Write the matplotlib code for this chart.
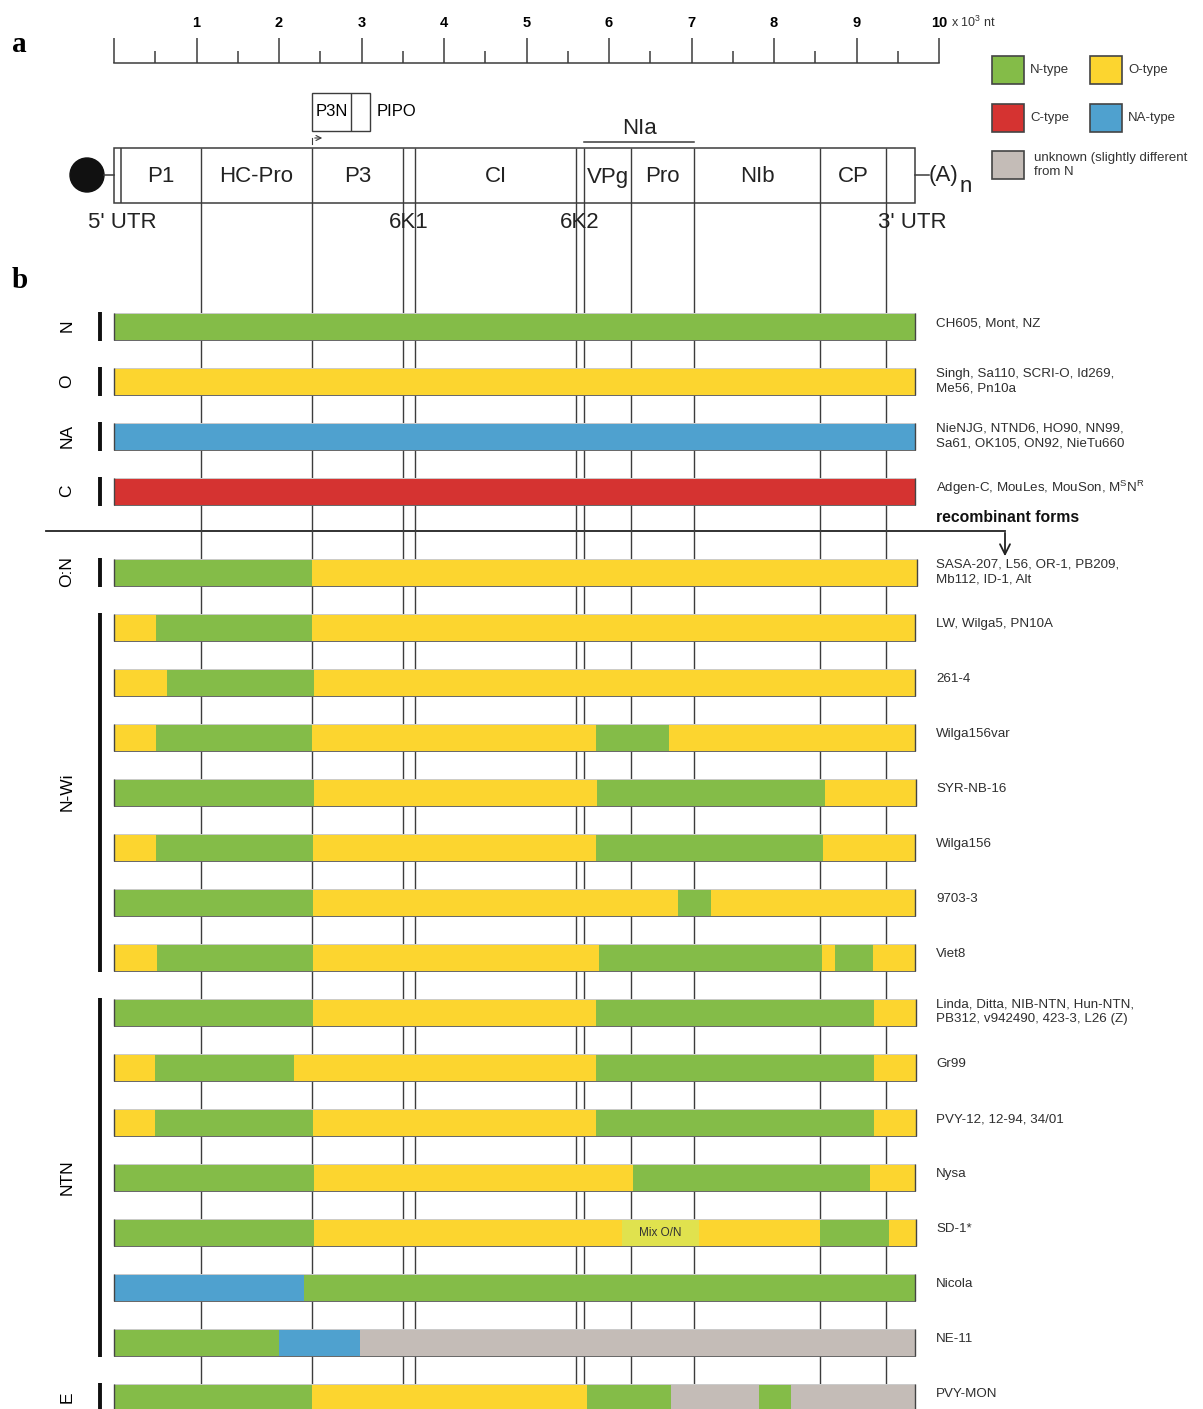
import numpy as np
import matplotlib.pyplot as plt
from matplotlib.patches import Rectangle, Circle

plt.rcParams['font.family'] = ['Liberation Sans', 'DejaVu Sans']
plt.rcParams['mathtext.fontset'] = 'custom'
plt.rcParams['mathtext.rm'] = 'Liberation Sans'

# genome map, positions in kb
genome_len = 9.71
utr5_end = 0.085
protein_names = ['P1', 'HC-Pro', 'P3', 'CI', 'VPg', 'Pro', 'NIb', 'CP']
protein_starts = [0.085, 1.055, 2.40, 3.65, 5.70, 6.27, 7.03, 8.56]
protein_ends = [1.055, 2.40, 3.50, 5.60, 6.27, 7.03, 8.56, 9.36]
boundaries = [1.055, 2.40, 3.50, 3.65, 5.60, 5.70, 6.27, 7.03, 8.56, 9.36]
small_names = ['6K1', '6K2']
small_pos = [3.575, 5.65]
nia_span = [5.70, 7.03]
p3n_span = [2.40, 2.87, 3.10]

# colours per type
type_colors = {'N': '#84bc48', 'O': '#fcd52f', 'NA': '#4fa1cf', 'C': '#d53331',
               'U': '#c4bcb7', 'M': '#e0e24e'}
legend_types = ['N', 'O', 'C', 'NA', 'U']
legend_labels = ['N-type', 'O-type', 'C-type', 'NA-type', 'unknown (slightly different\nfrom N']

# reference strains
ref_groups = ['N', 'O', 'NA', 'C']
ref_strains = ['CH605, Mont, NZ',
               'Singh, Sa110, SCRI-O, Id269,\nMe56, Pn10a',
               'NieNJG, NTND6, HO90, NN99,\nSa61, OK105, ON92, NieTu660',
               r'Adgen-C, MouLes, MouSon, M$^{\mathrm{S}}$N$^{\mathrm{R}}$']

# recombinant strains: segment types and breakpoints (kb)
rec_strains = ['SASA-207, L56, OR-1, PB209,\nMb112, ID-1, Alt',
               'LW, Wilga5, PN10A', '261-4', 'Wilga156var', 'SYR-NB-16', 'Wilga156',
               '9703-3', 'Viet8',
               'Linda, Ditta, NIB-NTN, Hun-NTN,\nPB312, v942490, 423-3, L26 (Z)',
               'Gr99', 'PVY-12, 12-94, 34/01', 'Nysa', 'SD-1*', 'Nicola', 'NE-11',
               'PVY-MON']
rec_types = [['N', 'O'],
             ['O', 'N', 'O'],
             ['O', 'N', 'O'],
             ['O', 'N', 'O', 'N', 'O'],
             ['N', 'O', 'N', 'O'],
             ['O', 'N', 'O', 'N', 'O'],
             ['N', 'O', 'N', 'O'],
             ['O', 'N', 'O', 'N', 'O', 'N', 'O'],
             ['N', 'O', 'N', 'O'],
             ['O', 'N', 'O', 'N', 'O'],
             ['O', 'N', 'O', 'N', 'O'],
             ['N', 'O', 'N', 'O'],
             ['N', 'O', 'M', 'O', 'N', 'O'],
             ['NA', 'N'],
             ['N', 'NA', 'U'],
             ['N', 'O', 'N', 'U', 'N', 'U']]
rec_breaks = [[0, 2.40, 9.73],
              [0, 0.51, 2.40, 9.71],
              [0, 0.64, 2.42, 9.71],
              [0, 0.51, 2.40, 5.84, 6.73, 9.71],
              [0, 2.42, 5.85, 8.62, 9.72],
              [0, 0.51, 2.41, 5.84, 8.59, 9.71],
              [0, 2.41, 6.84, 7.24, 9.71],
              [0, 0.52, 2.41, 5.88, 8.58, 8.74, 9.20, 9.71],
              [0, 2.41, 5.84, 9.21, 9.72],
              [0, 0.50, 2.18, 5.84, 9.21, 9.72],
              [0, 0.50, 2.41, 5.84, 9.21, 9.72],
              [0, 2.42, 6.29, 9.16, 9.71],
              [0, 2.42, 6.16, 7.09, 8.56, 9.39, 9.72],
              [0, 2.30, 9.71],
              [0, 2.00, 2.98, 9.71],
              [0, 2.40, 5.73, 6.75, 7.82, 8.21, 9.71]]
rec_groups = ['O:N', 'N-Wi', 'NTN', 'E']
rec_group_first = [0, 1, 8, 15]
rec_group_last = [0, 7, 14, 15]

# layout (pixels)
PX_KB = 82.5
X0 = 114
ref_y0, rec_y0, row_step, bar_h = 326, 572, 55, 27
line_col = '#3c3c3c'
txt_col = '#2e2e2e'

fig = plt.figure(figsize=(12.03, 14.09), dpi=100)
lay = fig.add_axes([0, 0, 1, 1])
lay.set_xlim(0, 1203)
lay.set_ylim(1409, 0)
lay.axis('off')
ax = fig.add_axes([0, 0, 1, 1])
ax.set_xlim(-X0 / PX_KB, (1203 - X0) / PX_KB)
ax.set_ylim(1409, 0)
ax.axis('off')
ax.patch.set_alpha(0)


def kb(px):
    return (px - X0) / PX_KB


# panel letters
lay.text(12, 45, 'a', fontsize=21, fontweight='bold', family='Liberation Serif', va='center')
lay.text(12, 281, 'b', fontsize=21, fontweight='bold', family='Liberation Serif', va='center')

# scale bar
ax.plot([0, 10], [63, 63], color=line_col, lw=1.1)
major = np.arange(0, 11)
minor = np.arange(0.5, 10, 1.0)
ax.vlines(major, 38, 63, color=line_col, lw=1.1)
ax.vlines(minor, 51, 63, color=line_col, lw=1.1)
for m in major[1:]:
    ax.text(m, 23, str(m), ha='center', va='center', fontsize=10.5, fontweight='bold')
ax.text(10.15, 22, r'x 10$^3$ nt', ha='left', va='center', fontsize=9, color='#333333')

# genome box
box_top, box_bot = 148, 203
ax.add_patch(Rectangle((0, box_top), genome_len, box_bot - box_top, fill=False,
                       edgecolor=line_col, lw=1.1, zorder=3))
ax.vlines(utr5_end, box_top, box_bot, color=line_col, lw=1.1, zorder=3)
ax.vlines(boundaries, box_top, 1409, color=line_col, lw=1.0, zorder=1)
for nm, s, e in zip(protein_names, protein_starts, protein_ends):
    ax.text((s + e) / 2, 177, nm, ha='center', va='center', fontsize=16, color='#222222')
for nm, p in zip(small_names, small_pos):
    ax.text(p, 222, nm, ha='center', va='center', fontsize=16, color='#222222')
ax.text(kb(122), 222, "5' UTR", ha='center', va='center', fontsize=16, color='#222222')
ax.text(kb(912), 222, "3' UTR", ha='center', va='center', fontsize=16, color='#222222')
# cap and poly-A tail
lay.add_patch(Circle((87, 175), 17, color='#111111'))
lay.plot([104, 114], [175, 175], color=line_col, lw=1.1)
lay.plot([915, 929], [175, 175], color=line_col, lw=1.1)
lay.text(929, 175, '(A)', ha='left', va='center', fontsize=16, color='#222222')
lay.text(960, 186, 'n', ha='left', va='center', fontsize=16, color='#222222')
# NIa
ax.plot(nia_span, [142, 142], color=line_col, lw=1.1)
ax.text(sum(nia_span) / 2, 129, 'NIa', ha='center', va='center', fontsize=16, color='#222222')
# P3N-PIPO
ax.add_patch(Rectangle((p3n_span[0], 93), p3n_span[2] - p3n_span[0], 38, fill=False,
                       edgecolor=line_col, lw=1.0))
ax.vlines(p3n_span[1], 93, 131, color=line_col, lw=1.0)
ax.text((p3n_span[0] + p3n_span[1]) / 2, 112, 'P3N', ha='center', va='center', fontsize=12)
ax.text(kb(377), 111, 'PIPO', ha='left', va='center', fontsize=12)
ax.plot([p3n_span[0], p3n_span[0]], [144, 138], color=line_col, lw=0.8)
ax.annotate('', xy=(kb(325), 138), xytext=(p3n_span[0], 138),
            arrowprops=dict(arrowstyle='->', color=line_col, lw=0.8, mutation_scale=9))

# legend
leg_pos = [(992, 56), (1090, 56), (992, 104), (1090, 104), (992, 151)]
for t, lab, (lx, ly) in zip(legend_types, legend_labels, leg_pos):
    lay.add_patch(Rectangle((lx, ly), 32, 28, facecolor=type_colors[t],
                            edgecolor='#444444', lw=1.2))
    lay.text(lx + 38 if t != 'U' else lx + 42, ly + 14, lab,
             ha='left', va='center', fontsize=9.5, color='#333333', linespacing=1.2)


def draw_bar(y, types, breaks):
    for t, s, e in zip(types, breaks[:-1], breaks[1:]):
        ax.barh(y, e - s, left=s, height=bar_h, color=type_colors[t], lw=0, zorder=2)
    ax.plot([breaks[0], breaks[-1]], [y + bar_h / 2, y + bar_h / 2], color='#666666', lw=0.7, zorder=3)
    ax.plot([breaks[0], breaks[-1]], [y - bar_h / 2, y - bar_h / 2], color='#cccccc', lw=0.7, zorder=3)
    ax.vlines([breaks[0], breaks[-1]], y - bar_h / 2, y + bar_h / 2, color='#444444', lw=1.0, zorder=3)


def strain_label(y, s):
    dy = -3 if '\n' not in s else 0
    ax.text(label_x, y + dy, s, ha='left', va='center', fontsize=9.6, color=txt_col,
            linespacing=1.3)


label_x = kb(936)
group_x = kb(67)
brack_x = kb(100)

# reference rows
for i, (g, s) in enumerate(zip(ref_groups, ref_strains)):
    y = ref_y0 + i * row_step
    draw_bar(y, [ref_groups[i]], [0, genome_len])
    strain_label(y, s)
    ax.vlines(brack_x, y - bar_h / 2 - 1, y + bar_h / 2 + 1, color='#111111', lw=2.8)
    ax.text(group_x, y, g, rotation=90, ha='center', va='center', fontsize=12.5)

# separator
lay.plot([46, 1005], [531, 531], color='#222222', lw=1.3)
lay.annotate('', xy=(1005, 559), xytext=(1005, 530),
             arrowprops=dict(arrowstyle='->', color='#222222', lw=1.3, mutation_scale=18))
lay.text(936, 518, 'recombinant forms', ha='left', va='center', fontsize=11.3,
         fontweight='bold', color='#111111')

# recombinant rows
for i, (s, tps, brk) in enumerate(zip(rec_strains, rec_types, rec_breaks)):
    y = rec_y0 + i * row_step
    draw_bar(y, tps, brk)
    if 'M' in tps:
        k = tps.index('M')
        ax.text((brk[k] + brk[k + 1]) / 2, y + 1, 'Mix O/N', ha='center', va='center',
                fontsize=8.5, color='#333333', zorder=4)
    strain_label(y, s)

for g, a, b in zip(rec_groups, rec_group_first, rec_group_last):
    ya = rec_y0 + a * row_step - bar_h / 2 - 1
    yb = rec_y0 + b * row_step + bar_h / 2 + 1
    ax.vlines(brack_x, ya, yb, color='#111111', lw=2.8)
    ax.text(group_x, (ya + yb) / 2, g, rotation=90, ha='center', va='center', fontsize=12.5)

fig.savefig('out.png', dpi=100)
